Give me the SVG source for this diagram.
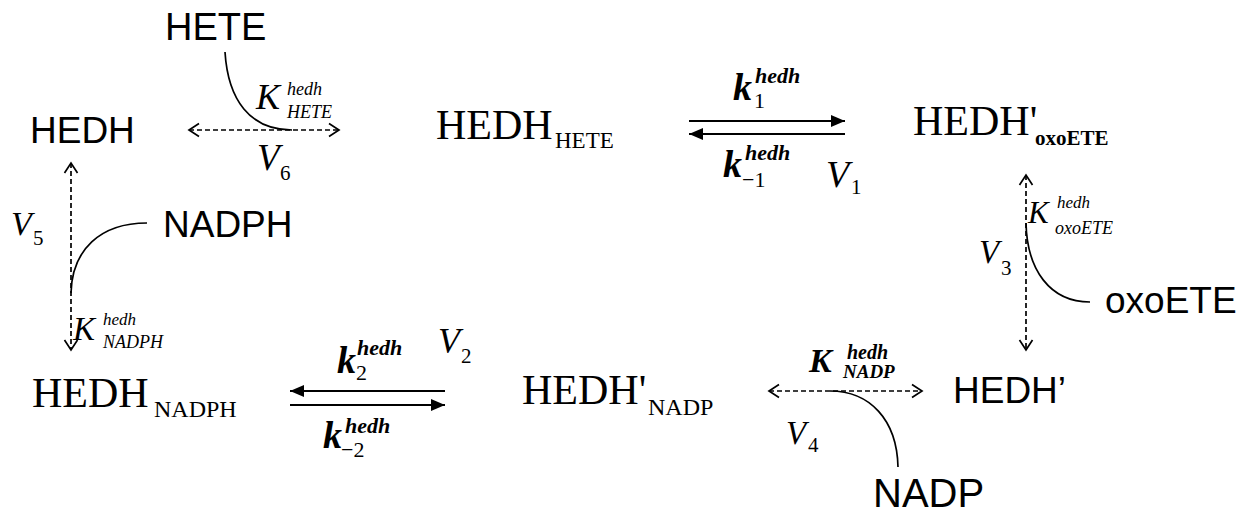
<svg xmlns="http://www.w3.org/2000/svg" width="1258" height="513" viewBox="0 0 1258 513">
<style>
.sans{font-family:"Liberation Sans",Arial,sans-serif;fill:#000}
.serif{font-family:"Liberation Serif","Times New Roman",serif;fill:#000}
.it{font-family:"Liberation Serif","Times New Roman",serif;font-style:italic;fill:#000}
.bi{font-family:"Liberation Serif","Times New Roman",serif;font-style:italic;font-weight:bold;fill:#000}
.dash{stroke:#000;stroke-width:1.7;stroke-dasharray:5 3;fill:none}
.solid{stroke:#000;stroke-width:2;fill:none}
.curve{stroke:#000;stroke-width:1.7;fill:none}
</style>
<defs>
<marker id="chev" markerUnits="userSpaceOnUse" markerWidth="14" markerHeight="16" refX="10" refY="6.5" orient="auto-start-reverse" overflow="visible">
<path d="M0,0 L10,6.5 L0,13" fill="none" stroke="#000" stroke-width="1.7"/>
</marker>
<marker id="tri" markerUnits="userSpaceOnUse" markerWidth="16" markerHeight="14" refX="14" refY="6" orient="auto" overflow="visible">
<path d="M0,0 L14,6 L0,12 z" fill="#000"/>
</marker>
</defs>
<rect width="1258" height="513" fill="#fff"/>

<g id="connectors">
<line class="dash" x1="189" y1="130" x2="339" y2="130" marker-start="url(#chev)" marker-end="url(#chev)"/>
<path class="curve" d="M225,52 C228,100 250,130 292,130"/>
<line class="solid" x1="689" y1="121" x2="845" y2="121" marker-end="url(#tri)"/>
<line class="solid" x1="845" y1="134" x2="689" y2="134" marker-end="url(#tri)"/>
<line class="dash" x1="1026" y1="175" x2="1026" y2="350" marker-start="url(#chev)" marker-end="url(#chev)"/>
<path class="curve" d="M1090,302 C1050,302 1027,270 1026,223"/>
<line class="dash" x1="769" y1="391" x2="922" y2="391" marker-start="url(#chev)" marker-end="url(#chev)"/>
<path class="curve" d="M898,467 C897,420 870,391 830,391"/>
<line class="solid" x1="445" y1="391" x2="290" y2="391" marker-end="url(#tri)"/>
<line class="solid" x1="290" y1="405" x2="445" y2="405" marker-end="url(#tri)"/>
<line class="dash" x1="71" y1="163" x2="71" y2="350" marker-start="url(#chev)" marker-end="url(#chev)"/>
<path class="curve" d="M147,223 C100,223 72,250 71,293"/>
</g>

<g id="node-HETE"><text class="sans" x="165" y="40" font-size="38">HETE</text></g>
<g id="node-HEDH"><text class="sans" x="30" y="143" font-size="37">HEDH</text></g>
<g id="node-HEDH_HETE"><text class="serif" x="436" y="139" font-size="42">HEDH</text><text class="serif" x="555" y="148" font-size="23">HETE</text></g>
<g id="node-HEDHp_oxoETE"><text class="serif" x="913" y="135" font-size="42">HEDH'</text><text class="serif" x="1035" y="145" font-size="21" font-weight="bold">oxoETE</text></g>
<g id="node-oxoETE"><text class="sans" x="1105" y="313" font-size="37">oxoETE</text></g>
<g id="node-HEDHp"><text class="sans" x="953" y="403" font-size="37">HEDH’</text></g>
<g id="node-NADP"><text class="sans" x="873" y="507" font-size="40">NADP</text></g>
<g id="node-HEDHp_NADP"><text class="serif" x="522" y="404" font-size="42">HEDH'</text><text class="serif" x="648" y="415" font-size="24">NADP</text></g>
<g id="node-HEDH_NADPH"><text class="serif" x="32" y="407" font-size="42">HEDH</text><text class="serif" x="154" y="417" font-size="24">NADPH</text></g>
<g id="node-NADPH"><text class="sans" x="163" y="237" font-size="37">NADPH</text></g>

<g id="labels">
<text class="it" x="256" y="109" font-size="36">K</text>
<text class="it" x="287" y="95" font-size="18">hedh</text>
<text class="it" x="287" y="118" font-size="18">HETE</text>
<text class="it" x="257" y="170" font-size="37">V</text>
<text class="serif" x="280" y="180" font-size="21">6</text>

<text class="bi" x="733" y="100" font-size="38">k</text>
<text class="bi" x="755" y="83" font-size="22">hedh</text>
<text class="serif" x="754" y="108" font-size="22">1</text>
<text class="bi" x="723" y="177" font-size="38">k</text>
<text class="bi" x="745" y="160" font-size="22">hedh</text>
<text class="serif" x="742" y="187" font-size="22">−1</text>
<text class="it" x="826" y="187" font-size="38">V</text>
<text class="serif" x="851" y="194" font-size="21">1</text>

<text class="it" x="1028" y="223" font-size="31">K</text>
<text class="it" x="1057" y="208" font-size="17">hedh</text>
<text class="it" x="1055" y="234" font-size="18">oxoETE</text>
<text class="it" x="979" y="263" font-size="33">V</text>
<text class="serif" x="1001" y="275" font-size="21">3</text>

<text class="bi" x="809" y="372" font-size="34">K</text>
<text class="bi" x="847" y="359" font-size="20">hedh</text>
<text class="bi" x="843" y="378" font-size="19">NADP</text>
<text class="it" x="786" y="444" font-size="33">V</text>
<text class="serif" x="808" y="452" font-size="21">4</text>

<text class="bi" x="337" y="373" font-size="38">k</text>
<text class="bi" x="357" y="355" font-size="22">hedh</text>
<text class="serif" x="356" y="380" font-size="22">2</text>
<text class="bi" x="323" y="448" font-size="38">k</text>
<text class="bi" x="345" y="433" font-size="22">hedh</text>
<text class="serif" x="341" y="457" font-size="22">−2</text>
<text class="it" x="438" y="353" font-size="36">V</text>
<text class="serif" x="461" y="363" font-size="21">2</text>

<text class="it" x="73" y="340" font-size="33">K</text>
<text class="it" x="103" y="325" font-size="17">hedh</text>
<text class="it" x="103" y="348" font-size="18">NADPH</text>
<text class="it" x="11" y="235" font-size="34">V</text>
<text class="serif" x="33" y="245" font-size="21">5</text>
</g>
</svg>
